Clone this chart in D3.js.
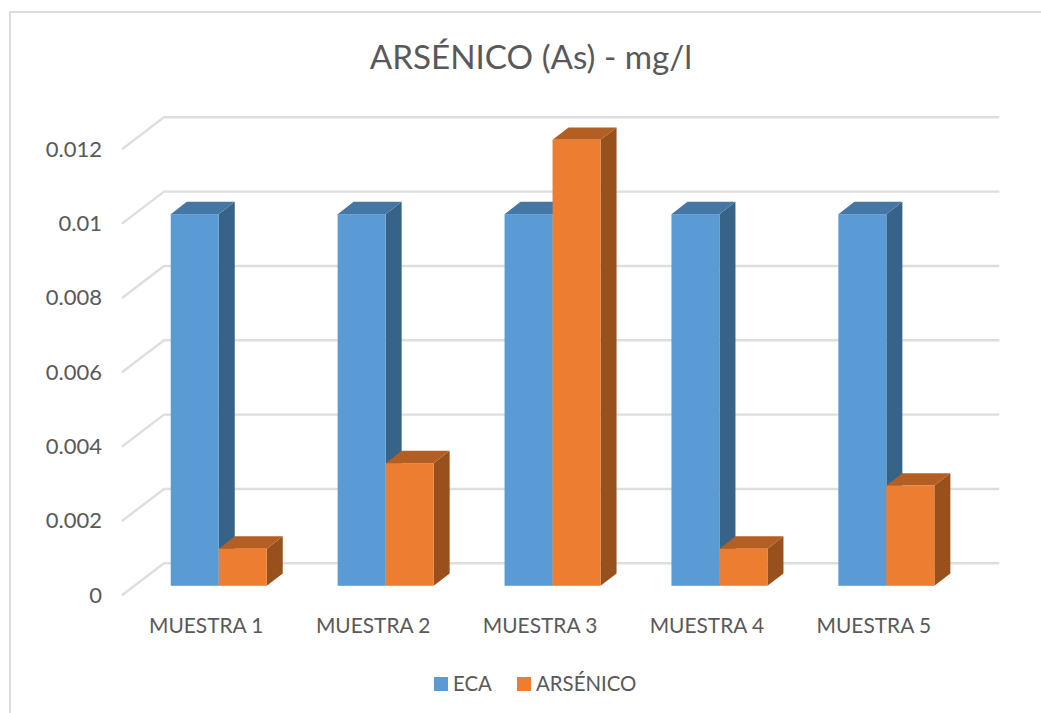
<!DOCTYPE html>
<html>
<head>
<meta charset="utf-8">
<script src="https://cdn.jsdelivr.net/npm/d3@7"></script>
<style>
html,body{margin:0;padding:0;background:#fff;overflow:hidden}
svg{display:block}
text{font-family:Lato,"Open Sans",sans-serif;fill:#595959}
</style>
</head>
<body>
<svg id="chart" width="1041" height="713"></svg>
<script>
const categories = ["MUESTRA 1", "MUESTRA 2", "MUESTRA 3", "MUESTRA 4", "MUESTRA 5"];
const seriesNames = ["ECA", "ARSÉNICO"];
const ecaValues = [0.01, 0.01, 0.01, 0.01, 0.01];
const arsenicoValues = [0.001, 0.0033, 0.012, 0.001, 0.0027];
const yTicks = [0, 0.002, 0.004, 0.006, 0.008, 0.01, 0.012];
const titleText = "ARSÉNICO (As) - mg/l";

const faceColors = {
  ECA: {front: "#5B9BD5", side: "#376389", top: "#4676A3"},
  "ARSÉNICO": {front: "#ED7D31", side: "#98501C", top: "#B35E22"}
};

const svg = d3.select("#chart");

// Chart frame: top and left edges only
svg.append("path").attr("d", "M10,713V12H1041").attr("fill", "none")
  .attr("stroke", "#dcdcdc").attr("stroke-width", 2);

svg.append("text").attr("x", 531).attr("y", 69).attr("text-anchor", "middle")
  .attr("font-size", 33.2).text(titleText);

// Oblique projection: floor depth shifts points right and up
const wallDepth = {dx: 42, dy: -32};
const barNear = {dx: 12.5, dy: -9.5};
const barDepth = {dx: 16, dy: -12.3};

const x = d3.scaleBand().domain(categories).range([122.8, 957.3]);
const y = d3.scaleLinear().domain([0, 0.012]).range([595.3, 149.3]);
const inner = d3.scaleBand().domain(seriesNames).range([0, 96]);

// Gridlines on the back wall plus the diagonal on the side wall
const grid = svg.append("g").attr("fill", "none").attr("stroke", "#dedede").attr("stroke-width", 2.4);
grid.selectAll("path").data(yTicks).join("path")
  .attr("d", v => d3.line()([
    [x.range()[0] - 0.8, y(v)],
    [x.range()[0] - 0.8 + wallDepth.dx, y(v) + wallDepth.dy],
    [x.range()[1] + wallDepth.dx, y(v) + wallDepth.dy]
  ]));

// 3D columns, drawn category by category so later faces overlap earlier ones
const rows = categories.flatMap((c, i) => [
  {cat: c, name: seriesNames[0], value: ecaValues[i]},
  {cat: c, name: seriesNames[1], value: arsenicoValues[i]}
]);

const bar = svg.append("g").selectAll("g").data(rows).join("g")
  .attr("transform", d => {
    const left = x(d.cat) + x.bandwidth() / 2 - inner.bandwidth() + barNear.dx + inner(d.name);
    return `translate(${left},${barNear.dy})`;
  });

const w = inner.bandwidth();
bar.append("path").attr("fill", d => faceColors[d.name].side)
  .attr("d", d => d3.line()([
    [w, y(d.value)], [w + barDepth.dx, y(d.value) + barDepth.dy],
    [w + barDepth.dx, y(0) + barDepth.dy], [w, y(0)]
  ]) + "Z");
bar.append("path").attr("fill", d => faceColors[d.name].top)
  .attr("d", d => d3.line()([
    [0, y(d.value)], [barDepth.dx, y(d.value) + barDepth.dy],
    [w + barDepth.dx, y(d.value) + barDepth.dy], [w, y(d.value)]
  ]) + "Z");
bar.append("rect").attr("fill", d => faceColors[d.name].front)
  .attr("x", 0).attr("width", w)
  .attr("y", d => y(d.value)).attr("height", d => y(0) - y(d.value));

// Axes
const yAxis = svg.append("g").attr("transform", "translate(102,-0.3)")
  .call(d3.axisLeft(y).tickValues(yTicks).tickSize(0).tickPadding(0).tickFormat(d => String(d)));
const xAxis = svg.append("g").attr("transform", "translate(0,618)")
  .call(d3.axisBottom(x).tickSize(0).tickPadding(0));
yAxis.select(".domain").remove();
xAxis.select(".domain").remove();
yAxis.selectAll("text").attr("font-size", 22).style("font-family", 'Lato,"Open Sans",sans-serif').attr("fill", "#595959");
xAxis.selectAll("text").attr("font-size", 20.9).style("font-family", 'Lato,"Open Sans",sans-serif').attr("fill", "#595959");

// Legend
const legendItems = [
  {name: seriesNames[0], box: 434, label: 453},
  {name: seriesNames[1], box: 517, label: 536}
];
const legend = svg.append("g").selectAll("g").data(legendItems).join("g");
legend.append("rect").attr("x", d => d.box).attr("y", 677).attr("width", 14).attr("height", 14)
  .attr("fill", d => faceColors[d.name].front);
legend.append("text").attr("x", d => d.label).attr("y", 691).attr("font-size", 20.4).text(d => d.name);
</script>
</body>
</html>
